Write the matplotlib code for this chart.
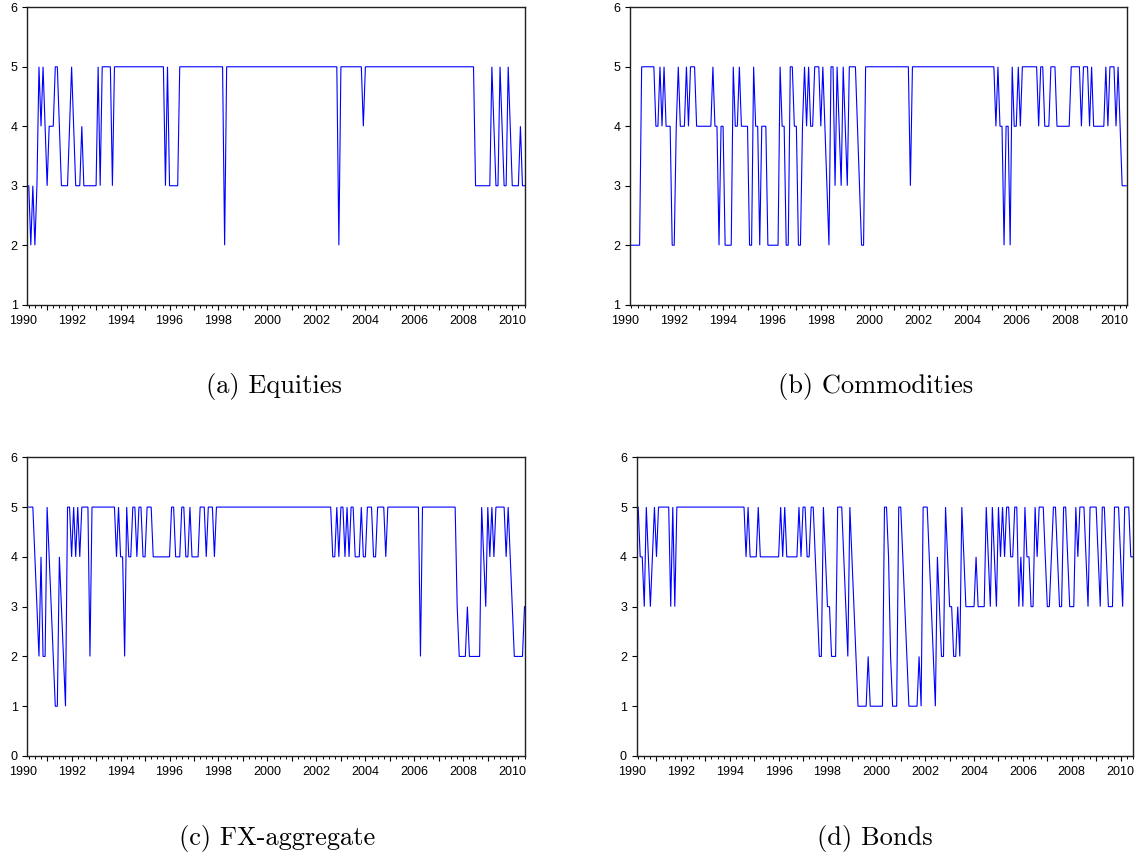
import numpy as np
import matplotlib
matplotlib.use('Agg')
import matplotlib.pyplot as plt
from matplotlib.ticker import FixedLocator, NullFormatter, FixedFormatter

# Monthly regime series, first observation April 1990, last July 2010
equities = [
    3, 2, 3, 2, 3, 5, 4, 5, 4,              # 1990
    3, 4, 4, 4, 5, 5, 4, 3, 3, 3, 3, 4,     # 1991
    5, 4, 3, 3, 3, 4, 3, 3, 3, 3, 3, 3,     # 1992
    3, 5, 3, 5, 5, 5, 5, 5, 3, 5, 5, 5,     # 1993
    5, 5, 5, 5, 5, 5, 5, 5, 5, 5, 5, 5,     # 1994
    5, 5, 5, 5, 5, 5, 5, 5, 5, 5, 3, 5,     # 1995
    3, 3, 3, 3, 3, 5, 5, 5, 5, 5, 5, 5,     # 1996
    5, 5, 5, 5, 5, 5, 5, 5, 5, 5, 5, 5,     # 1997
    5, 5, 5, 2, 5, 5, 5, 5, 5, 5, 5, 5,     # 1998
    5, 5, 5, 5, 5, 5, 5, 5, 5, 5, 5, 5,     # 1999
    5, 5, 5, 5, 5, 5, 5, 5, 5, 5, 5, 5,     # 2000
    5, 5, 5, 5, 5, 5, 5, 5, 5, 5, 5, 5,     # 2001
    5, 5, 5, 5, 5, 5, 5, 5, 5, 5, 5, 2,     # 2002
    5, 5, 5, 5, 5, 5, 5, 5, 5, 5, 5, 4,     # 2003
    5, 5, 5, 5, 5, 5, 5, 5, 5, 5, 5, 5,     # 2004
    5, 5, 5, 5, 5, 5, 5, 5, 5, 5, 5, 5,     # 2005
    5, 5, 5, 5, 5, 5, 5, 5, 5, 5, 5, 5,     # 2006
    5, 5, 5, 5, 5, 5, 5, 5, 5, 5, 5, 5,     # 2007
    5, 5, 5, 5, 5, 5, 3, 3, 3, 3, 3, 3,     # 2008
    3, 3, 5, 4, 3, 3, 5, 4, 3, 3, 5, 4,     # 2009
    3, 3, 3, 3, 4, 3, 3,                    # 2010
]

commodities = [
    2, 2, 2, 2, 2, 5, 5, 5, 5,              # 1990
    5, 5, 5, 4, 4, 5, 4, 5, 4, 4, 4, 2,     # 1991
    2, 4, 5, 4, 4, 4, 5, 4, 5, 5, 5, 4,     # 1992
    4, 4, 4, 4, 4, 4, 4, 5, 4, 4, 2, 4,     # 1993
    4, 2, 2, 2, 2, 5, 4, 4, 5, 4, 4, 4,     # 1994
    4, 2, 2, 5, 4, 4, 2, 4, 4, 4, 2, 2,     # 1995
    2, 2, 2, 2, 5, 4, 4, 2, 2, 5, 5, 4,     # 1996
    4, 2, 2, 4, 5, 4, 5, 4, 4, 5, 5, 5,     # 1997
    4, 5, 4, 3, 2, 5, 5, 3, 5, 4, 3, 5,     # 1998
    4, 3, 5, 5, 5, 5, 4, 3, 2, 2, 5, 5,     # 1999
    5, 5, 5, 5, 5, 5, 5, 5, 5, 5, 5, 5,     # 2000
    5, 5, 5, 5, 5, 5, 5, 5, 3, 5, 5, 5,     # 2001
    5, 5, 5, 5, 5, 5, 5, 5, 5, 5, 5, 5,     # 2002
    5, 5, 5, 5, 5, 5, 5, 5, 5, 5, 5, 5,     # 2003
    5, 5, 5, 5, 5, 5, 5, 5, 5, 5, 5, 5,     # 2004
    5, 5, 4, 5, 4, 4, 2, 4, 4, 2, 5, 4,     # 2005
    4, 5, 4, 5, 5, 5, 5, 5, 5, 5, 5, 4,     # 2006
    5, 5, 4, 4, 4, 5, 5, 5, 4, 4, 4, 4,     # 2007
    4, 4, 4, 5, 5, 5, 5, 5, 4, 5, 5, 5,     # 2008
    4, 5, 4, 4, 4, 4, 4, 4, 5, 4, 5, 5,     # 2009
    5, 4, 5, 4, 3, 3, 3,                    # 2010
]

fx_aggregate = [
    5, 5, 5, 4, 3, 2, 4, 2, 2,              # 1990
    5, 4, 3, 2, 1, 1, 4, 3, 2, 1, 5, 5,     # 1991
    4, 5, 4, 5, 4, 5, 5, 5, 5, 2, 5, 5,     # 1992
    5, 5, 5, 5, 5, 5, 5, 5, 5, 5, 4, 5,     # 1993
    4, 4, 2, 5, 4, 4, 5, 5, 4, 5, 5, 4,     # 1994
    4, 5, 5, 5, 4, 4, 4, 4, 4, 4, 4, 4,     # 1995
    4, 5, 5, 4, 4, 4, 5, 5, 4, 4, 5, 4,     # 1996
    4, 4, 4, 5, 5, 5, 4, 5, 5, 5, 4, 5,     # 1997
    5, 5, 5, 5, 5, 5, 5, 5, 5, 5, 5, 5,     # 1998
    5, 5, 5, 5, 5, 5, 5, 5, 5, 5, 5, 5,     # 1999
    5, 5, 5, 5, 5, 5, 5, 5, 5, 5, 5, 5,     # 2000
    5, 5, 5, 5, 5, 5, 5, 5, 5, 5, 5, 5,     # 2001
    5, 5, 5, 5, 5, 5, 5, 5, 4, 4, 5, 4,     # 2002
    5, 5, 4, 5, 4, 5, 5, 4, 4, 4, 5, 4,     # 2003
    4, 5, 5, 5, 4, 4, 5, 5, 5, 5, 4, 5,     # 2004
    5, 5, 5, 5, 5, 5, 5, 5, 5, 5, 5, 5,     # 2005
    5, 5, 5, 2, 5, 5, 5, 5, 5, 5, 5, 5,     # 2006
    5, 5, 5, 5, 5, 5, 5, 5, 5, 3, 2, 2,     # 2007
    2, 2, 3, 2, 2, 2, 2, 2, 2, 5, 4, 3,     # 2008
    5, 4, 5, 4, 5, 5, 5, 5, 5, 4, 5, 4,     # 2009
    3, 2, 2, 2, 2, 2, 3,                    # 2010
]

bonds = [
    5, 4, 4, 3, 5, 4, 3, 4, 5,              # 1990
    4, 5, 5, 5, 5, 5, 5, 3, 5, 3, 5, 5,     # 1991
    5, 5, 5, 5, 5, 5, 5, 5, 5, 5, 5, 5,     # 1992
    5, 5, 5, 5, 5, 5, 5, 5, 5, 5, 5, 5,     # 1993
    5, 5, 5, 5, 5, 5, 5, 5, 4, 5, 4, 4,     # 1994
    4, 4, 5, 4, 4, 4, 4, 4, 4, 4, 4, 4,     # 1995
    4, 5, 4, 5, 4, 4, 4, 4, 4, 4, 5, 4,     # 1996
    5, 5, 4, 4, 5, 5, 4, 3, 2, 2, 5, 4,     # 1997
    3, 3, 2, 2, 2, 5, 5, 5, 4, 3, 2, 5,     # 1998
    4, 3, 2, 1, 1, 1, 1, 1, 2, 1, 1, 1,     # 1999
    1, 1, 1, 1, 5, 5, 4, 2, 1, 1, 1, 5,     # 2000
    5, 4, 3, 2, 1, 1, 1, 1, 1, 2, 1, 5,     # 2001
    5, 5, 4, 3, 2, 1, 4, 3, 2, 2, 5, 4,     # 2002
    3, 3, 2, 2, 3, 2, 5, 4, 3, 3, 3, 3,     # 2003
    3, 4, 3, 3, 3, 3, 5, 4, 3, 5, 4, 3,     # 2004
    5, 4, 5, 4, 5, 5, 4, 4, 5, 5, 3, 4,     # 2005
    3, 5, 4, 4, 3, 3, 5, 4, 5, 5, 5, 4,     # 2006
    3, 3, 4, 5, 5, 4, 3, 3, 5, 5, 4, 3,     # 2007
    3, 3, 5, 4, 5, 5, 5, 4, 3, 5, 5, 5,     # 2008
    5, 4, 3, 5, 5, 4, 3, 3, 3, 5, 5, 5,     # 2009
    4, 3, 5, 5, 5, 4, 4,                    # 2010
]

captions = ['(a) Equities', '(b) Commodities', '(c) FX-aggregate', '(d) Bonds']

START = 1990.25          # April 1990 as a decimal year
XLIM = (1990.19, 2010.52)
TICK_FONT = dict(family='Liberation Sans', size=9)
MAJOR_LEN, X_PAD = 3.5, 4.0

W, H = 1136, 857


def px_box(left, top, right, bottom):
    """Axes rectangle from pixel edges (origin top-left)."""
    return [left / W, 1 - bottom / H, (right - left) / W, (bottom - top) / H]


def draw_panel(fig, rect, values, ylim):
    ax = fig.add_axes(rect)
    t = START + np.arange(len(values)) / 12.0
    ax.plot(t, values, color='#0000ff', lw=0.8, solid_joinstyle='miter')

    ax.set_xlim(*XLIM)
    ax.set_ylim(*ylim)
    ax.set_yticks(range(ylim[0], ylim[1] + 1))

    years = np.arange(1991, 2011)
    ax.xaxis.set_major_locator(FixedLocator(years))
    ax.xaxis.set_major_formatter(
        FixedFormatter([str(y) if y % 2 == 0 else '' for y in years]))
    quarters = [y + q / 4 for y in range(1990, 2011) for q in (1, 2, 3)]
    ax.xaxis.set_minor_locator(FixedLocator(quarters))
    ax.xaxis.set_minor_formatter(NullFormatter())

    ax.tick_params(axis='both', which='major', direction='out',
                   length=MAJOR_LEN, width=0.8, pad=3.5, colors='black')
    ax.tick_params(axis='x', which='minor', direction='out', length=2.2,
                   width=0.7)
    ax.tick_params(axis='x', which='major', pad=X_PAD)
    for lab in ax.get_xticklabels() + ax.get_yticklabels():
        lab.set_fontfamily(TICK_FONT['family'])
        lab.set_fontsize(TICK_FONT['size'])

    # Jan 1990 sits just left of the first observation, so label it by hand
    ax.annotate('1990', xy=(1990.0, 0), xycoords=('data', 'axes fraction'),
                xytext=(0, -(MAJOR_LEN + X_PAD)), textcoords='offset points',
                ha='center', va='top', annotation_clip=False, **TICK_FONT)

    for side in ('left', 'right', 'top', 'bottom'):
        ax.spines[side].set_linewidth(1.0)
        ax.spines[side].set_color('#202020')
    return ax


fig = plt.figure(figsize=(W / 100, H / 100), dpi=100)

layout = [
    (equities,     px_box(27.3, 7.3, 525.0, 304.7),    (1, 6), (274, 387)),
    (commodities,  px_box(630.0, 7.3, 1126.7, 304.7),  (1, 6), (876, 387)),
    (fx_aggregate, px_box(27.3, 457.3, 525.0, 756.0),  (0, 6), (277, 838)),
    (bonds,        px_box(636.7, 457.3, 1133.3, 756.0), (0, 6), (875, 838)),
]

for (values, rect, ylim, (cx, cy)), caption in zip(layout, captions):
    draw_panel(fig, rect, values, ylim)
    fig.text(cx / W, 1 - cy / H, caption, ha='center', va='center',
             family='cmr10', size=19)

fig.savefig('out.png', dpi=100)
